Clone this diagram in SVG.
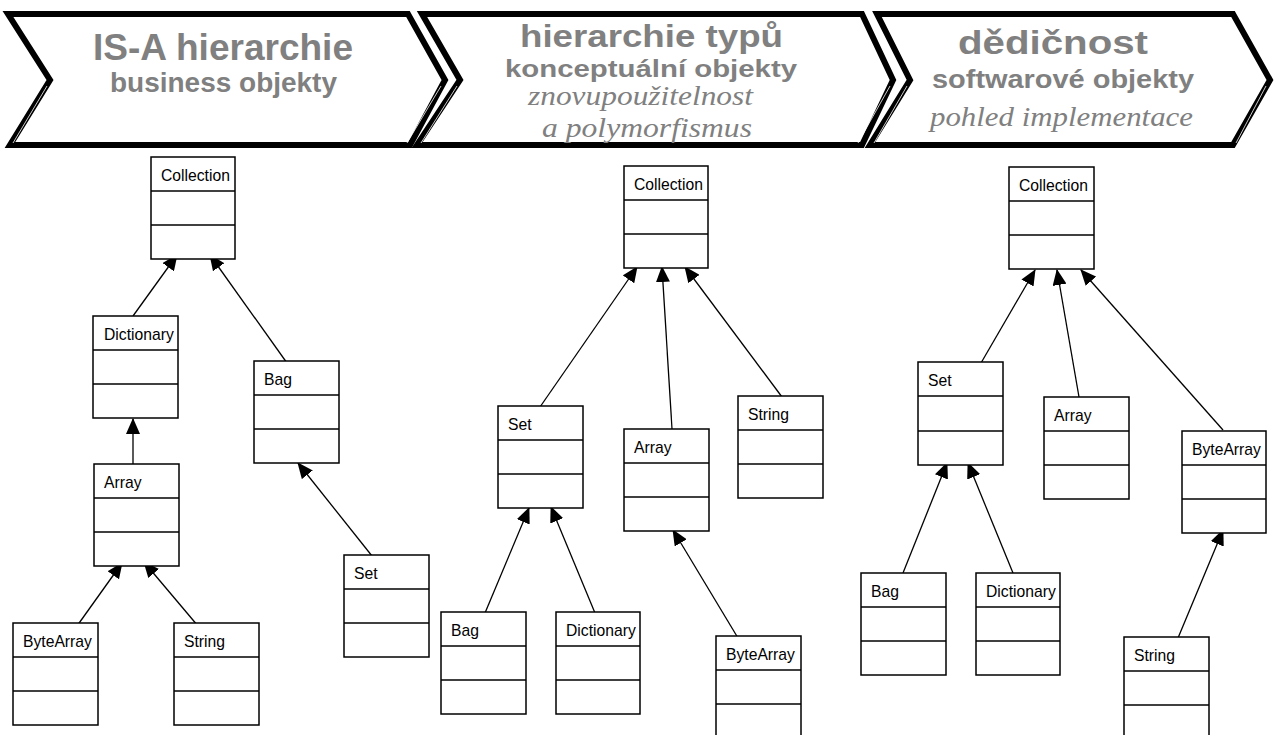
<svg xmlns="http://www.w3.org/2000/svg" width="1274" height="735" viewBox="0 0 1274 735">
<defs>
<style>
.chev{fill:#fff;stroke:#000;stroke-width:6;stroke-linejoin:miter}
.hl{fill:none;stroke:#fff;stroke-width:0.8}
.h1{font-family:"Liberation Sans",Arial,sans-serif;font-weight:bold;fill:#808080}
.hi{font-family:"Liberation Serif","Times New Roman",serif;font-style:italic;fill:#808080}
.box{fill:#fff;stroke:#000;stroke-width:1.5}
.div{stroke:#000;stroke-width:1.5}
.lbl{font-family:"Liberation Sans",Arial,sans-serif;font-size:15.7px;fill:#000}
.con{stroke:#000;stroke-width:1.3;fill:none;marker-end:url(#tri)}
</style>
<marker id="tri" viewBox="0 0 16 14" refX="15" refY="7" markerWidth="16" markerHeight="14" markerUnits="userSpaceOnUse" orient="auto">
<path d="M0,0 L16,7 L0,14 z" fill="#000"/>
</marker>
</defs>

<g id="header-1">
<polygon class="chev" points="8,14 408,14 445,80 410,145 10,145 50,80"/>
<polyline class="hl" points="47,86 13,143"/>
<text class="h1" x="93" y="60" font-size="37" textLength="260" lengthAdjust="spacingAndGlyphs">IS-A hierarchie</text>
<text class="h1" x="110" y="92" font-size="28" textLength="227" lengthAdjust="spacingAndGlyphs">business objekty</text>
</g>
<g id="header-2">
<polygon class="chev" points="422,14 862,14 893,80 862,145 417,145 460,80"/>
<polyline class="hl" points="457,86 421,143"/>
<polyline class="hl" points="441,86 407,143"/>
<text class="h1" x="520" y="47" font-size="32" textLength="263" lengthAdjust="spacingAndGlyphs">hierarchie typů</text>
<text class="h1" x="505" y="77" font-size="24" textLength="292" lengthAdjust="spacingAndGlyphs">konceptuální objekty</text>
<text class="hi" x="528" y="105" font-size="28" textLength="225" lengthAdjust="spacingAndGlyphs">znovupoužitelnost</text>
<text class="hi" x="542" y="137" font-size="28" textLength="210" lengthAdjust="spacingAndGlyphs">a polymorfismus</text>
</g>
<g id="header-3">
<polygon class="chev" points="877,14 1233,14 1270,80 1233,145 870,145 910,80"/>
<polyline class="hl" points="907,86 874,143"/>
<polyline class="hl" points="890,86 858,143"/>
<polyline class="hl" points="1266,86 1236,143"/>
<text class="h1" x="958" y="54" font-size="34" textLength="190" lengthAdjust="spacingAndGlyphs">dědičnost</text>
<text class="h1" x="932" y="88" font-size="25" textLength="262" lengthAdjust="spacingAndGlyphs">softwarové objekty</text>
<text class="hi" x="930" y="126" font-size="27" textLength="263" lengthAdjust="spacingAndGlyphs">pohled implementace</text>
</g>

<g id="connectors">
<line class="con" x1="133" y1="316" x2="177" y2="255"/>
<line class="con" x1="287" y1="363" x2="210" y2="255"/>
<line class="con" x1="133" y1="464" x2="133" y2="419"/>
<line class="con" x1="77" y1="626" x2="122" y2="563"/>
<line class="con" x1="198" y1="626" x2="144" y2="562"/>
<line class="con" x1="376" y1="561" x2="298" y2="463"/>
<line class="con" x1="540" y1="407" x2="637" y2="267"/>
<line class="con" x1="672" y1="429" x2="662" y2="267"/>
<line class="con" x1="782" y1="397" x2="685" y2="267"/>
<line class="con" x1="485" y1="613" x2="529" y2="508"/>
<line class="con" x1="595" y1="613" x2="551" y2="507"/>
<line class="con" x1="738" y1="638" x2="673" y2="530"/>
<line class="con" x1="981" y1="363" x2="1035" y2="270"/>
<line class="con" x1="1079" y1="397" x2="1057" y2="270"/>
<line class="con" x1="1223" y1="430" x2="1081" y2="270"/>
<line class="con" x1="903" y1="573" x2="947" y2="463"/>
<line class="con" x1="1013" y1="573" x2="968" y2="463"/>
<line class="con" x1="1178" y1="638" x2="1223" y2="530"/>
</g>

<g id="c1-collection" transform="translate(151,157)"><rect class="box" width="84" height="102"/><line class="div" x1="0" y1="34" x2="84" y2="34"/><line class="div" x1="0" y1="68" x2="84" y2="68"/><text class="lbl" x="10" y="24">Collection</text></g>
<g id="c1-dictionary" transform="translate(93,316)"><rect class="box" width="85" height="102"/><line class="div" x1="0" y1="34" x2="85" y2="34"/><line class="div" x1="0" y1="68" x2="85" y2="68"/><text class="lbl" x="11" y="24">Dictionary</text></g>
<g id="c1-bag" transform="translate(254,361)"><rect class="box" width="85" height="102"/><line class="div" x1="0" y1="34" x2="85" y2="34"/><line class="div" x1="0" y1="68" x2="85" y2="68"/><text class="lbl" x="10" y="24">Bag</text></g>
<g id="c1-array" transform="translate(94,464)"><rect class="box" width="85" height="102"/><line class="div" x1="0" y1="34" x2="85" y2="34"/><line class="div" x1="0" y1="68" x2="85" y2="68"/><text class="lbl" x="10" y="24">Array</text></g>
<g id="c1-bytearray" transform="translate(13,623)"><rect class="box" width="85" height="102"/><line class="div" x1="0" y1="34" x2="85" y2="34"/><line class="div" x1="0" y1="68" x2="85" y2="68"/><text class="lbl" x="10" y="24">ByteArray</text></g>
<g id="c1-string" transform="translate(174,623)"><rect class="box" width="85" height="102"/><line class="div" x1="0" y1="34" x2="85" y2="34"/><line class="div" x1="0" y1="68" x2="85" y2="68"/><text class="lbl" x="10" y="24">String</text></g>
<g id="c1-set" transform="translate(344,555)"><rect class="box" width="85" height="102"/><line class="div" x1="0" y1="34" x2="85" y2="34"/><line class="div" x1="0" y1="68" x2="85" y2="68"/><text class="lbl" x="10" y="24">Set</text></g>

<g id="c2-collection" transform="translate(624,166)"><rect class="box" width="84" height="102"/><line class="div" x1="0" y1="34" x2="84" y2="34"/><line class="div" x1="0" y1="68" x2="84" y2="68"/><text class="lbl" x="10" y="24">Collection</text></g>
<g id="c2-set" transform="translate(498,406)"><rect class="box" width="85" height="102"/><line class="div" x1="0" y1="34" x2="85" y2="34"/><line class="div" x1="0" y1="68" x2="85" y2="68"/><text class="lbl" x="10" y="24">Set</text></g>
<g id="c2-array" transform="translate(624,429)"><rect class="box" width="85" height="102"/><line class="div" x1="0" y1="34" x2="85" y2="34"/><line class="div" x1="0" y1="68" x2="85" y2="68"/><text class="lbl" x="10" y="24">Array</text></g>
<g id="c2-string" transform="translate(738,396)"><rect class="box" width="85" height="102"/><line class="div" x1="0" y1="34" x2="85" y2="34"/><line class="div" x1="0" y1="68" x2="85" y2="68"/><text class="lbl" x="10" y="24">String</text></g>
<g id="c2-bag" transform="translate(441,612)"><rect class="box" width="85" height="102"/><line class="div" x1="0" y1="34" x2="85" y2="34"/><line class="div" x1="0" y1="68" x2="85" y2="68"/><text class="lbl" x="10" y="24">Bag</text></g>
<g id="c2-dictionary" transform="translate(556,612)"><rect class="box" width="84" height="102"/><line class="div" x1="0" y1="34" x2="84" y2="34"/><line class="div" x1="0" y1="68" x2="84" y2="68"/><text class="lbl" x="10" y="24">Dictionary</text></g>
<g id="c2-bytearray" transform="translate(716,636)"><rect class="box" width="85" height="102"/><line class="div" x1="0" y1="34" x2="85" y2="34"/><line class="div" x1="0" y1="68" x2="85" y2="68"/><text class="lbl" x="10" y="24">ByteArray</text></g>

<g id="c3-collection" transform="translate(1009,167)"><rect class="box" width="85" height="102"/><line class="div" x1="0" y1="34" x2="85" y2="34"/><line class="div" x1="0" y1="68" x2="85" y2="68"/><text class="lbl" x="10" y="24">Collection</text></g>
<g id="c3-set" transform="translate(918,362)"><rect class="box" width="85" height="103"/><line class="div" x1="0" y1="34" x2="85" y2="34"/><line class="div" x1="0" y1="69" x2="85" y2="69"/><text class="lbl" x="10" y="24">Set</text></g>
<g id="c3-array" transform="translate(1044,397)"><rect class="box" width="85" height="102"/><line class="div" x1="0" y1="34" x2="85" y2="34"/><line class="div" x1="0" y1="68" x2="85" y2="68"/><text class="lbl" x="10" y="24">Array</text></g>
<g id="c3-bytearray" transform="translate(1182,431)"><rect class="box" width="84" height="102"/><line class="div" x1="0" y1="34" x2="84" y2="34"/><line class="div" x1="0" y1="68" x2="84" y2="68"/><text class="lbl" x="10" y="24">ByteArray</text></g>
<g id="c3-bag" transform="translate(861,573)"><rect class="box" width="85" height="102"/><line class="div" x1="0" y1="34" x2="85" y2="34"/><line class="div" x1="0" y1="68" x2="85" y2="68"/><text class="lbl" x="10" y="24">Bag</text></g>
<g id="c3-dictionary" transform="translate(976,573)"><rect class="box" width="84" height="102"/><line class="div" x1="0" y1="34" x2="84" y2="34"/><line class="div" x1="0" y1="68" x2="84" y2="68"/><text class="lbl" x="10" y="24">Dictionary</text></g>
<g id="c3-string" transform="translate(1124,637)"><rect class="box" width="85" height="102"/><line class="div" x1="0" y1="34" x2="85" y2="34"/><line class="div" x1="0" y1="68" x2="85" y2="68"/><text class="lbl" x="10" y="24">String</text></g>
</svg>
